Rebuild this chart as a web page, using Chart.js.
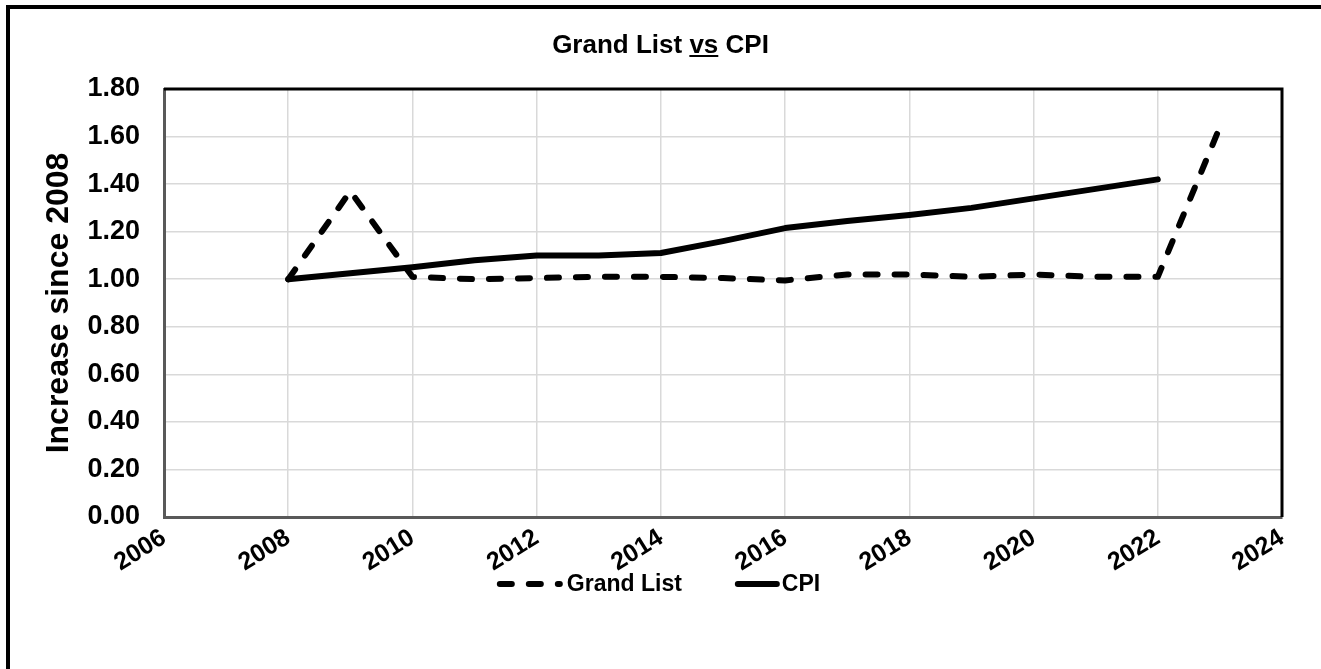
<!DOCTYPE html>
<html>
<head>
<meta charset="utf-8">
<script src="https://cdn.jsdelivr.net/npm/chart.js@4"></script>
<style>
  html, body { margin: 0; padding: 0; background: #fff; overflow: hidden; }
  #frame { position: absolute; left: 6px; top: 5px; width: 2000px; height: 2000px;
           border-top: 4px solid #000; border-left: 4px solid #000; box-sizing: border-box; }
  #wrap { position: absolute; left: 0; top: 0; width: 1321px; height: 669px; }
  #t { position: absolute; left: 0; width: 1321px; top: 29px; text-align: center;
       font: bold 26px "Liberation Sans", Arial, sans-serif; color: #000; }
</style>
</head>
<body>
<div id="frame"></div>
<div id="wrap"><canvas id="c" width="1321" height="669"></canvas></div>
<div id="t">Grand List <u>vs</u> CPI</div>
<script>
const years = [2008, 2009, 2010, 2011, 2012, 2013, 2014, 2015, 2016, 2017, 2018, 2019, 2020, 2021, 2022, 2023];
const grandList = [1.00, 1.37, 1.01, 1.00, 1.005, 1.01, 1.01, 1.005, 0.995, 1.02, 1.02, 1.01, 1.02, 1.01, 1.01, 1.64];
const cpiYears = [2008, 2009, 2010, 2011, 2012, 2013, 2014, 2015, 2016, 2017, 2018, 2019, 2020, 2021, 2022];
const cpi = [1.00, 1.025, 1.05, 1.08, 1.10, 1.10, 1.11, 1.16, 1.215, 1.245, 1.27, 1.30, 1.34, 1.38, 1.42];
const xTicks = [2006, 2008, 2010, 2012, 2014, 2016, 2018, 2020, 2022, 2024];
const yTicks = [0, 0.2, 0.4, 0.6, 0.8, 1.0, 1.2, 1.4, 1.6, 1.8];

const FONT = '"Liberation Sans", Arial, sans-serif';

const framePlugin = {
  id: 'framePlugin',
  afterDatasetsDraw(chart) {
    const a = chart.chartArea, ctx = chart.ctx;
    ctx.save();
    ctx.strokeStyle = '#000';
    ctx.lineWidth = 3;
    ctx.beginPath();
    ctx.moveTo(a.left, a.top);
    ctx.lineTo(a.right, a.top);
    ctx.lineTo(a.right, a.bottom);
    ctx.stroke();
    ctx.restore();
  }
};

// Legend drawn from the datasets (sample line + label), centred below the axis
const legendPlugin = {
  id: 'customLegend',
  afterDraw(chart) {
    const ctx = chart.ctx;
    const sampleW = [66, 45];
    const textGap = [4, 2];
    const itemGap = 53;
    const y = 584;
    ctx.save();
    ctx.font = 'bold 23px ' + FONT;
    const items = chart.data.datasets.map((ds, i) => ({
      ds, sw: sampleW[i], tg: textGap[i], tw: ctx.measureText(ds.label).width
    }));
    let total = 0;
    items.forEach((it, i) => { total += it.sw + it.tg + it.tw + (i ? itemGap : 0); });
    let x = (chart.width - total) / 2 - 2;
    items.forEach((it, i) => {
      if (i) x += itemGap;
      ctx.strokeStyle = it.ds.borderColor;
      ctx.lineWidth = it.ds.borderWidth;
      ctx.lineCap = 'round';
      ctx.setLineDash(it.ds.borderDash || []);
      ctx.beginPath();
      ctx.moveTo(x + 3, y);
      ctx.lineTo(x + it.sw - 3, y);
      ctx.stroke();
      ctx.setLineDash([]);
      x += it.sw + it.tg;
      ctx.fillStyle = '#000';
      ctx.textBaseline = 'middle';
      ctx.textAlign = 'left';
      ctx.fillText(it.ds.label, x, y + 1);
      x += it.tw;
    });
    ctx.restore();
  }
};

new Chart(document.getElementById('c'), {
  type: 'line',
  data: {
    datasets: [
      {
        label: 'Grand List',
        data: years.map((y, i) => ({x: y, y: grandList[i]})),
        borderColor: '#000',
        backgroundColor: '#000',
        borderWidth: 6,
        borderDash: [12, 17],
        borderCapStyle: 'round',
        borderJoinStyle: 'round',
        pointRadius: 0,
        tension: 0,
        fill: false
      },
      {
        label: 'CPI',
        data: cpiYears.map((y, i) => ({x: y, y: cpi[i]})),
        borderColor: '#000',
        backgroundColor: '#000',
        borderWidth: 6,
        borderCapStyle: 'round',
        borderJoinStyle: 'round',
        pointRadius: 0,
        tension: 0,
        fill: false
      }
    ]
  },
  options: {
    responsive: false,
    animation: false,
    devicePixelRatio: 1,
    layout: { padding: { left: 10, right: 39, top: 89, bottom: 82 } },
    plugins: {
      title: { display: false },
      tooltip: { enabled: false },
      legend: { display: false }
    },
    scales: {
      x: {
        type: 'linear',
        min: 2006,
        max: 2024,
        afterBuildTicks(s) { s.ticks = xTicks.map(v => ({value: v})); },
        afterFit(s) { s.height = 70; },
        ticks: {
          color: '#000',
          font: { family: FONT, size: 25, weight: 'bold' },
          minRotation: 32,
          maxRotation: 32,
          padding: 6,
          callback: v => String(v)
        },
        grid: { color: '#d9d9d9', lineWidth: 1.5, drawTicks: false },
        border: { color: '#595959', width: 3 }
      },
      y: {
        min: 0,
        max: 1.8,
        afterBuildTicks(s) { s.ticks = yTicks.map(v => ({value: v})); },
        afterFit(s) { s.width = 154; },
        ticks: {
          color: '#000',
          font: { family: FONT, size: 27, weight: 'bold' },
          padding: 24,
          callback: v => v.toFixed(2)
        },
        grid: { color: '#d9d9d9', lineWidth: 1.5, drawTicks: false },
        border: { color: '#595959', width: 3 },
        title: {
          display: true,
          text: 'Increase since 2008',
          color: '#000',
          font: { family: FONT, size: 32, weight: 'bold' },
          padding: { top: 30, bottom: 0 }
        }
      }
    }
  },
  plugins: [framePlugin, legendPlugin]
});
</script>
</body>
</html>
